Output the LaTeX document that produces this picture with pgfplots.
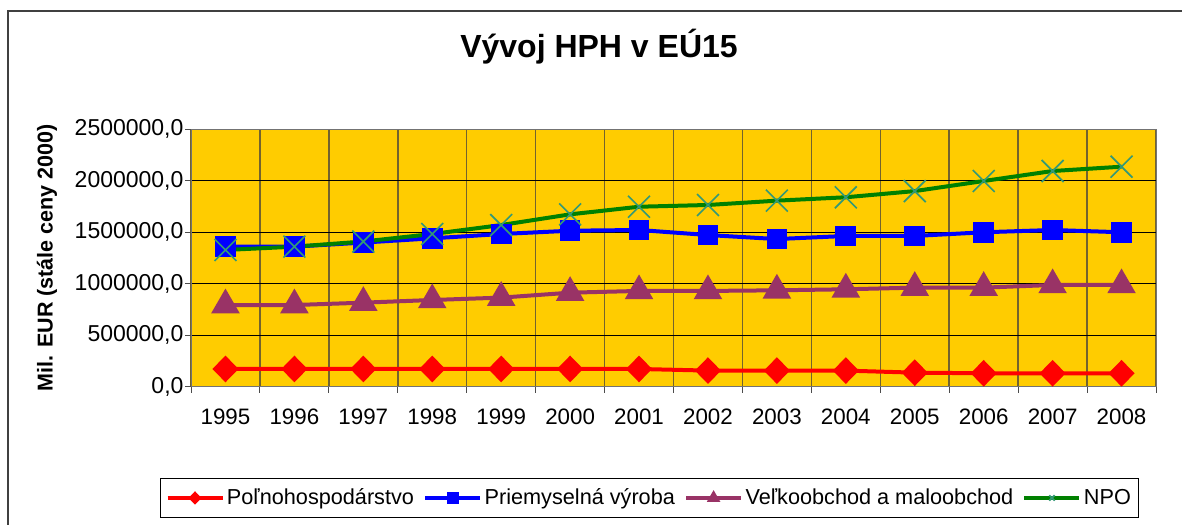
\documentclass[border=0pt]{standalone}
\usepackage{fontspec}
\setmainfont{Liberation Sans}
\usepackage{graphicx}
\usepackage{pgfplots}
\pgfplotsset{compat=1.18}
\definecolor{gold}{HTML}{FFCC00}
\definecolor{vgrid}{rgb}{0.45,0.39,0.18}
\definecolor{plum}{HTML}{993366}
\definecolor{dgreen}{HTML}{008000}
\definecolor{xgreen}{HTML}{339977}
\begin{document}
\begin{tikzpicture}
\useasboundingbox (0,0) rectangle (709.2pt,315pt);
\clip (0,0) rectangle (709.2pt,315pt);
\draw[line width=1.2pt, color=black!75] (4.8pt,-5pt) -- (4.8pt,308.1pt) -- (720pt,308.1pt);
\node[font=\fontsize{19.2}{22}\selectfont\bfseries] at (359.4pt,286.8pt) {Vývoj HPH v EÚ15};
\begin{axis}[
  at={(114.6pt,83pt)}, anchor=south west,
  width=579pt, height=154.4pt, scale only axis,
  xmin=-0.5, xmax=13.5, ymin=0, ymax=2500000,
  axis background/.style={fill=gold},
  axis line style={draw=black!55},
  xtick={0,...,13},
  xticklabels={1995,1996,1997,1998,1999,2000,2001,2002,2003,2004,2005,2006,2007,2008},
  minor xtick={-0.5,0.5,...,13.5},
  xminorgrids=true, xmajorgrids=false,
  minor x grid style={draw=vgrid, line width=0.9pt},
  ytick={0,500000,...,2500000},
  ymajorgrids=true,
  major y grid style={draw=black, line width=0.6pt},
  tick align=outside,
  xtick pos=bottom, ytick pos=left,
  major x tick style={draw=none},
  minor x tick style={draw=black!70, line width=0.6pt},
  major y tick style={draw=black!70, line width=0.6pt},
  major tick length=3.6pt, minor tick length=3.6pt,
  scaled ticks=false,
  /pgf/number format/.cd, fixed, fixed zerofill, precision=1, use comma, 1000 sep={}, assume math mode=true,
  /pgfplots/.cd,
  xticklabel style={font=\fontsize{13.4}{15}\selectfont, yshift=-6pt},
  yticklabel style={font=\fontsize{13.8}{15}\selectfont, xshift=2.6pt},
  ylabel={Mil. EUR (stále ceny 2000)},
  ylabel style={at={(axis description cs:-0.1492,0.5)}, anchor=center, font=\fontsize{12.9}{14}\selectfont\bfseries},
  legend columns=4,
  legend style={at={(0.4751,-0.4324)}, anchor=center, draw=black, line width=0.6pt,
    font=\fontsize{13}{15}\selectfont, inner xsep=3pt, inner ysep=4pt,
    nodes={inner xsep=1.5pt},
    /tikz/every odd column/.append style={column sep=0pt},
    /tikz/every even column/.append style={column sep=4pt}},
  legend image code/.code={\draw[#1, mark size=2.3pt, mark repeat=2, mark phase=2] plot coordinates {(0pt,0pt)(16.5pt,0pt)(33pt,0pt)};},
  every axis plot/.append style={line width=2.4pt},
]
\addplot[color=red, mark=diamond*, mark size=6.3pt, mark options={xscale=1.3, solid}] coordinates {
(0,172000)(1,172000)(2,172000)(3,172000)(4,172000)(5,172000)(6,172000)
(7,156000)(8,156000)(9,156000)(10,136000)(11,130000)(12,130000)(13,130000)};
\addlegendentry{Poľnohospodárstvo}
\addplot[color=blue, mark=square*, mark size=5pt] coordinates {
(0,1360000)(1,1360000)(2,1400000)(3,1441000)(4,1483000)(5,1515000)(6,1522000)
(7,1473000)(8,1434000)(9,1464000)(10,1464000)(11,1500000)(12,1522000)(13,1500000)};
\addlegendentry{Priemyselná výroba}
\addplot[color=plum, mark=triangle*, mark size=7.5pt] coordinates {
(0,793000)(1,793000)(2,816000)(3,842000)(4,865000)(5,913000)(6,930000)
(7,930000)(8,936000)(9,946000)(10,962000)(11,962000)(12,988000)(13,988000)};
\addlegendentry{Veľkoobchod a maloobchod}
\addplot[color=dgreen, mark=x, mark size=9.3pt, mark options={draw=xgreen, line width=1pt}] coordinates {
(0,1328000)(1,1360000)(2,1410000)(3,1483000)(4,1570000)(5,1674000)(6,1748000)
(7,1765000)(8,1807000)(9,1840000)(10,1900000)(11,1998000)(12,2095000)(13,2137000)};
\addlegendentry{NPO}
\end{axis}
\end{tikzpicture}
\end{document}
